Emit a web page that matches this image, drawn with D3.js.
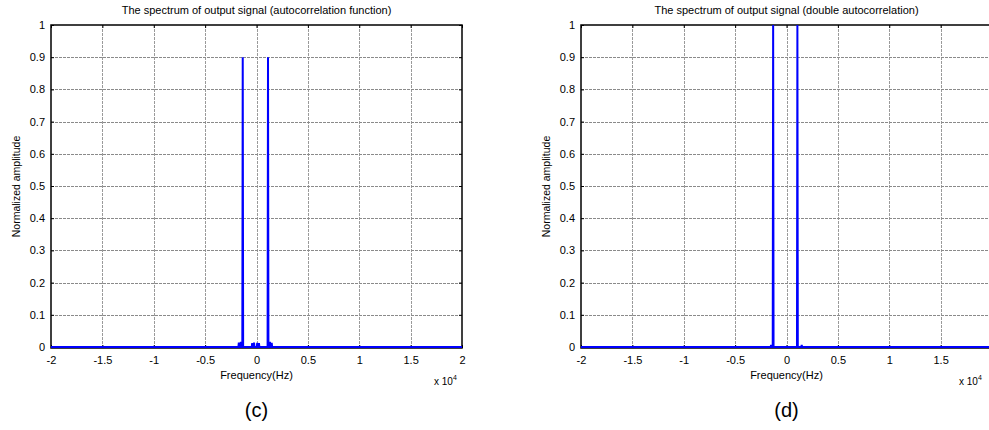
<!DOCTYPE html>
<html>
<head>
<meta charset="utf-8">
<script src="https://cdn.jsdelivr.net/npm/d3@7/dist/d3.min.js"></script>
<style>
  html, body { margin: 0; padding: 0; background: #fff; }
  svg { display: block; font-family: Arial, "Liberation Sans", sans-serif; }
</style>
</head>
<body>
<svg id="chart" width="989" height="430"></svg>
<script>
// ---- data (frequency in Hz, normalized amplitude) ----
const xTickValues = [-20000, -15000, -10000, -5000, 0, 5000, 10000, 15000, 20000];
const xTickLabels = ["-2", "-1.5", "-1", "-0.5", "0", "0.5", "1", "1.5", "2"];
const yTickValues = [0, 0.1, 0.2, 0.3, 0.4, 0.5, 0.6, 0.7, 0.8, 0.9, 1];
const yTickLabels = ["0", "0.1", "0.2", "0.3", "0.4", "0.5", "0.6", "0.7", "0.8", "0.9", "1"];

const titles = [
  "The spectrum of output signal (autocorrelation function)",
  "The spectrum of output signal (double autocorrelation)"
];
const panelLabels = ["(c)", "(d)"];
const xLabel = "Frequency(Hz)";
const yLabel = "Normalized amplitude";

// panel (c): autocorrelation function
const freqC = [-20000, -1760, -1720, -1680, -1560, -1520, -1480, -1380, -1340, -1300,
               -460, -420, -380, -280, -240, -200, 30, 70, 110, 200, 240, 280,
               1080, 1120, 1160, 1270, 1310, 1350, 1440, 1480, 1520, 20000];
const ampC  = [0, 0, 0.014, 0, 0, 0.016, 0, 0, 0.9, 0,
               0, 0.012, 0, 0, 0.014, 0, 0, 0.013, 0, 0, 0.012, 0,
               0, 0.9, 0, 0, 0.016, 0, 0, 0.013, 0, 0];

// panel (d): double autocorrelation
const freqD = [-20000, -1540, -1500, -1460, -1340, -1300, -1260,
               1020, 1060, 1100, 1440, 1480, 1520, 20000];
const ampD  = [0, 0, 0.006, 0, 0, 1.0, 0,
               0, 1.0, 0, 0, 0.006, 0, 0];

const panels = [
  { left: 51, freq: freqC, amp: ampC },
  { left: 581, freq: freqD, amp: ampD }
];

const svg = d3.select("#chart");
const SVG_W = 989;
const W = 411, plotTop = 25, plotBottom = 348;

panels.forEach((p, i) => {
  const g = svg.append("g");
  const x = d3.scaleLinear().domain([-20000, 20000]).range([p.left, p.left + W]);
  const y = d3.scaleLinear().domain([0, 1]).range([plotBottom - 1, plotTop]);

  // grid
  g.append("g").selectAll("line").data(xTickValues.slice(1, -1)).join("line")
    .attr("x1", d => Math.round(x(d)) + 0.5).attr("x2", d => Math.round(x(d)) + 0.5)
    .attr("y1", plotTop).attr("y2", plotBottom)
    .attr("stroke", "#9a9a9a").attr("stroke-width", 1).attr("stroke-dasharray", "3,1");
  g.append("g").selectAll("line").data(yTickValues.slice(1, -1)).join("line")
    .attr("x1", p.left).attr("x2", p.left + W)
    .attr("y1", d => Math.round(y(d)) + 0.5).attr("y2", d => Math.round(y(d)) + 0.5)
    .attr("stroke", "#8a8a8a").attr("stroke-width", 1).attr("stroke-dasharray", "3,1");

  // axes with inward ticks (labels falling outside the page are not drawn)
  const shownX = xTickValues.filter(v => x(v) < SVG_W - 6);
  const xAxisB = d3.axisBottom(x).tickValues(shownX)
    .tickFormat(d => xTickLabels[xTickValues.indexOf(d)]).tickSizeInner(-3).tickSizeOuter(0).tickPadding(8);
  const gx = g.append("g").attr("transform", `translate(0,${plotBottom})`).call(xAxisB);
  gx.select(".domain").remove();
  gx.selectAll("text").attr("font-size", 11).attr("fill", "#000").attr("font-family", "Arial, 'Liberation Sans', sans-serif");
  const xAxisT = d3.axisTop(x).tickValues(xTickValues).tickFormat("").tickSizeInner(-3).tickSizeOuter(0);
  const gxt = g.append("g").attr("transform", `translate(0,${plotTop})`).call(xAxisT);
  gxt.select(".domain").remove();

  const yAxisL = d3.axisLeft(y).tickValues(yTickValues).tickFormat((d, k) => yTickLabels[k]).tickSizeInner(-3).tickSizeOuter(0).tickPadding(6);
  const gy = g.append("g").attr("transform", `translate(${p.left},0)`).call(yAxisL);
  gy.select(".domain").remove();
  gy.selectAll("text").attr("font-size", 11).attr("fill", "#000").attr("font-family", "Arial, 'Liberation Sans', sans-serif");
  const yAxisR = d3.axisRight(y).tickValues(yTickValues).tickFormat("").tickSizeInner(-3).tickSizeOuter(0);
  const gyr = g.append("g").attr("transform", `translate(${p.left + W},0)`).call(yAxisR);
  gyr.select(".domain").remove();

  // box
  g.append("rect").attr("x", p.left).attr("y", plotTop).attr("width", W).attr("height", plotBottom - plotTop)
    .attr("fill", "none").attr("stroke", "#000").attr("stroke-width", 1.5);

  // spectrum
  const line = d3.line().x(d => x(d[0])).y(d => y(d[1]));
  const pts = p.freq.map((f, k) => [f, p.amp[k]]);
  g.append("path").datum(pts).attr("d", line)
    .attr("fill", "none").attr("stroke", "#0000ff").attr("stroke-width", 2);

  // labels
  const cx = p.left + W / 2;
  g.append("text").attr("x", cx).attr("y", 14).attr("text-anchor", "middle")
    .attr("font-size", 11).text(titles[i]);
  g.append("text").attr("x", cx).attr("y", 379).attr("text-anchor", "middle")
    .attr("font-size", 11).text(xLabel);
  g.append("text").attr("transform", `translate(${p.left - 31},${(plotTop + plotBottom) / 2}) rotate(-90)`)
    .attr("text-anchor", "middle").attr("font-size", 10.5).text(yLabel);
  const exX = Math.min(p.left + W - 28, SVG_W - 30);
  const ex = g.append("text").attr("x", exX).attr("y", 385).attr("font-size", 10);
  ex.append("tspan").text("x 10");
  ex.append("tspan").attr("dy", -5).attr("font-size", 7).text("4");
  g.append("text").attr("x", cx).attr("y", 417).attr("text-anchor", "middle")
    .attr("font-size", 20).text(panelLabels[i]);
});
</script>
</body>
</html>
